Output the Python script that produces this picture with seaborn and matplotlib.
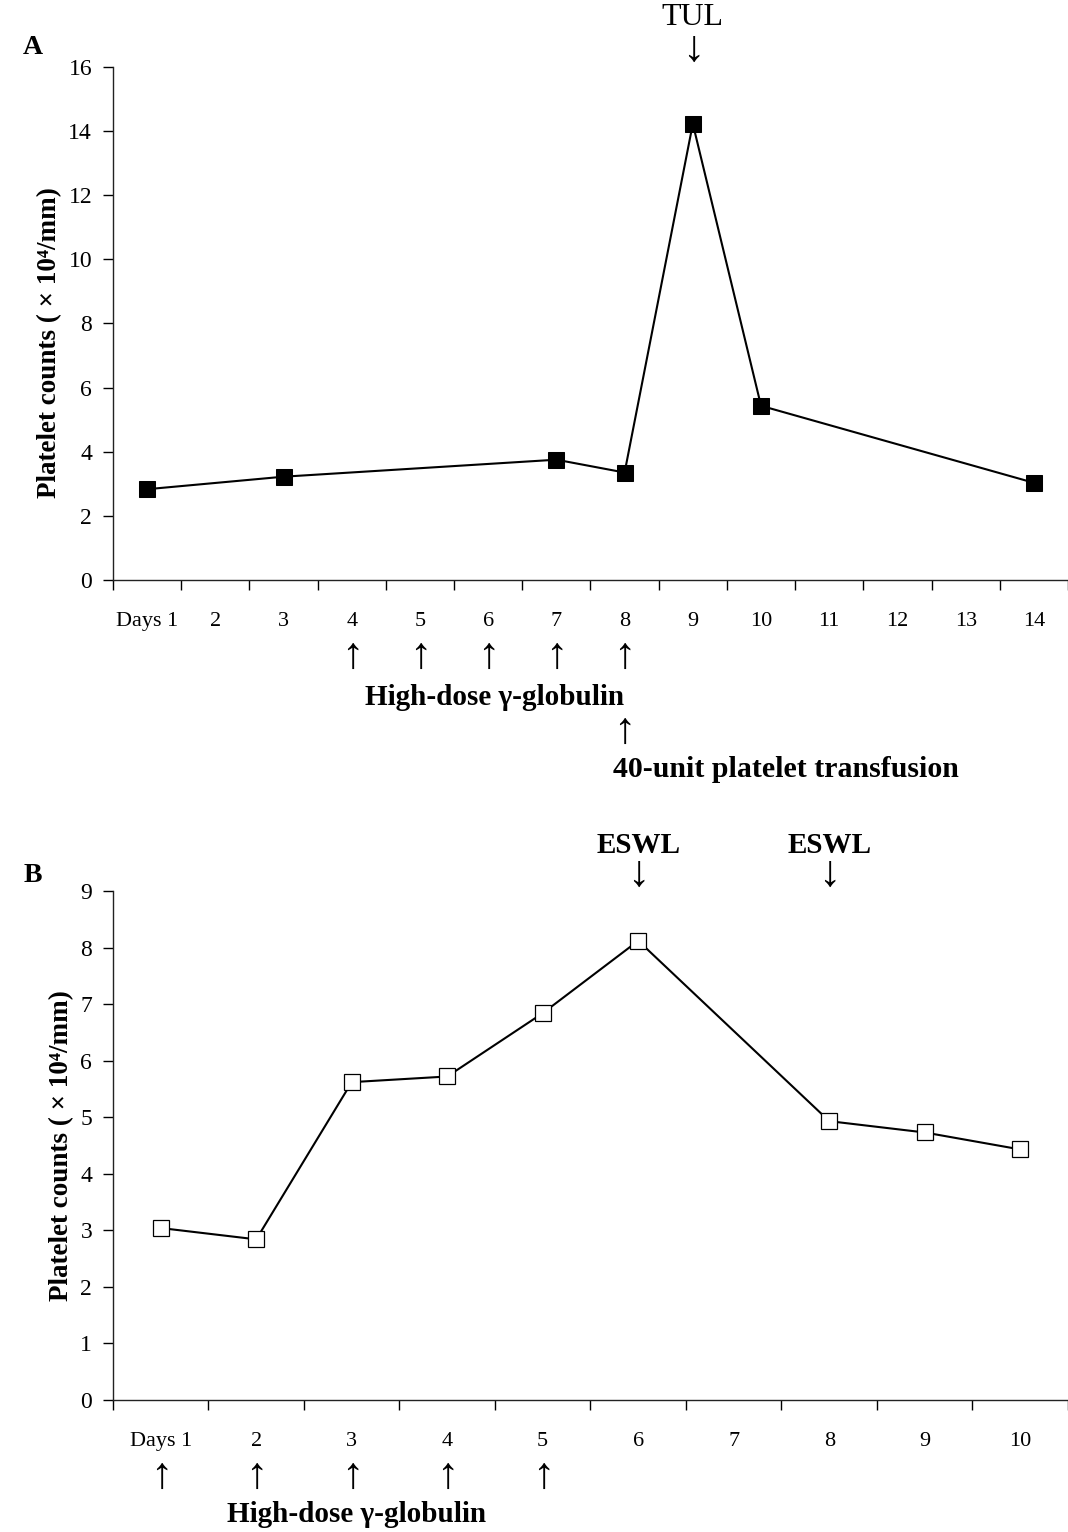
import matplotlib
matplotlib.use("Agg")
import matplotlib.pyplot as plt
import seaborn as sns
import pandas as pd

# Panel A data
days_a = [1, 3, 7, 8, 9, 10, 14]
counts_a = [2.83, 3.22, 3.75, 3.35, 14.22, 5.43, 3.03]
labels_a = ["Days 1"] + [str(d) for d in range(2, 15)]
gamma_days_a = [4, 5, 6, 7, 8]

# Panel B data
days_b = [1, 2, 3, 4, 5, 6, 8, 9, 10]
counts_b = [3.04, 2.84, 5.62, 5.72, 6.84, 8.12, 4.93, 4.73, 4.43]
labels_b = ["Days 1"] + [str(d) for d in range(2, 11)]
gamma_days_b = [1, 2, 3, 4, 5]
eswl_days_b = [6, 8]

sns.set_style("ticks")
plt.rcParams['font.family'] = ['Liberation Serif', 'DejaVu Serif']
plt.rcParams['text.color'] = 'black'
plt.rcParams['axes.labelcolor'] = 'black'
plt.rcParams['xtick.color'] = 'black'
plt.rcParams['ytick.color'] = 'black'

ylab = "Platelet counts ( \u00d7 10\u2074/mm)"
up = "\u2191"
down = "\u2193"
arrow_size = 32

fig = plt.figure(figsize=(10.68, 15.32), dpi=100)
ax_a = fig.add_axes([0.1058, 0.6214, 0.8942, 0.3351])
ax_b = fig.add_axes([0.1058, 0.0862, 0.8942, 0.3322])


def style_axis(ax, n_days, ymax, ystep, labels):
    ax.set_xlim(0.5, n_days + 0.5)
    ax.set_ylim(0, ymax)
    ax.set_yticks(range(0, ymax + 1, ystep))
    ax.set_xticks(range(1, n_days + 1))
    ax.set_xticklabels(labels)
    ax.set_xticks([i + 0.5 for i in range(0, n_days + 1)], minor=True)
    ax.tick_params(axis="x", which="major", length=0, pad=23, labelsize=16)
    ax.tick_params(axis="x", which="minor", length=7, width=1, direction="out")
    ax.tick_params(axis="y", length=7, width=1, direction="out", pad=8, labelsize=17)
    for s in ["top", "right"]:
        ax.spines[s].set_visible(False)
    for s in ["left", "bottom"]:
        ax.spines[s].set_linewidth(1.0)
        ax.spines[s].set_color("#222222")
    ax.set_xlabel("")


# Panel A
df_a = pd.DataFrame({"day": days_a, "count": counts_a})
sns.lineplot(data=df_a, x="day", y="count", ax=ax_a, color="black", linewidth=1.5,
             marker="s", markersize=11.5, markerfacecolor="black",
             markeredgecolor="black")
style_axis(ax_a, 14, 16, 2, labels_a)
ax_a.set_ylabel(ylab, fontsize=19.5, fontweight="bold", va="center")
ax_a.yaxis.set_label_coords(-0.066, 0.462)

tr = ax_a.get_xaxis_transform()
ax_a.text(9, 1.095, "TUL", transform=tr, ha="center", va="center", fontsize=23)
ax_a.text(9, 1.033, down, transform=tr, ha="center", va="center",
          fontsize=arrow_size, fontweight="bold")
for d in gamma_days_a:
    ax_a.text(d, -0.150, up, transform=tr, ha="center", va="center",
              fontsize=arrow_size, fontweight="bold")
ax_a.text(6.1, -0.228, "High-dose \u03b3-globulin", transform=tr, ha="center",
          va="center", fontsize=21, fontweight="bold")
ax_a.text(8, -0.296, up, transform=tr, ha="center", va="center",
          fontsize=arrow_size, fontweight="bold")
ax_a.text(7.83, -0.370, "40-unit platelet transfusion", transform=tr, ha="left",
          va="center", fontsize=21.5, fontweight="bold")

# Panel B
df_b = pd.DataFrame({"day": days_b, "count": counts_b})
sns.lineplot(data=df_b, x="day", y="count", ax=ax_b, color="black", linewidth=1.5,
             marker="s", markersize=11.5, markerfacecolor="white",
             markeredgecolor="black", markeredgewidth=0.9)
style_axis(ax_b, 10, 9, 1, labels_b)
ax_b.set_ylabel(ylab, fontsize=19.5, fontweight="bold", va="center")
ax_b.yaxis.set_label_coords(-0.054, 0.50)

tr = ax_b.get_xaxis_transform()
for d in eswl_days_b:
    ax_b.text(d, 1.090, "ESWL", transform=tr, ha="center", va="center",
              fontsize=21, fontweight="bold")
    ax_b.text(d, 1.031, down, transform=tr, ha="center", va="center",
              fontsize=arrow_size, fontweight="bold")
for d in gamma_days_b:
    ax_b.text(d, -0.151, up, transform=tr, ha="center", va="center",
              fontsize=arrow_size, fontweight="bold")
ax_b.text(3.05, -0.226, "High-dose \u03b3-globulin", transform=tr, ha="center",
          va="center", fontsize=21, fontweight="bold")

fig.text(33 / 1068, 1 - 48 / 1532, "A", ha="center", va="center", fontsize=20,
         fontweight="bold")
fig.text(33 / 1068, 1 - 876 / 1532, "B", ha="center", va="center", fontsize=20,
         fontweight="bold")

fig.savefig("out.png", dpi=100)
